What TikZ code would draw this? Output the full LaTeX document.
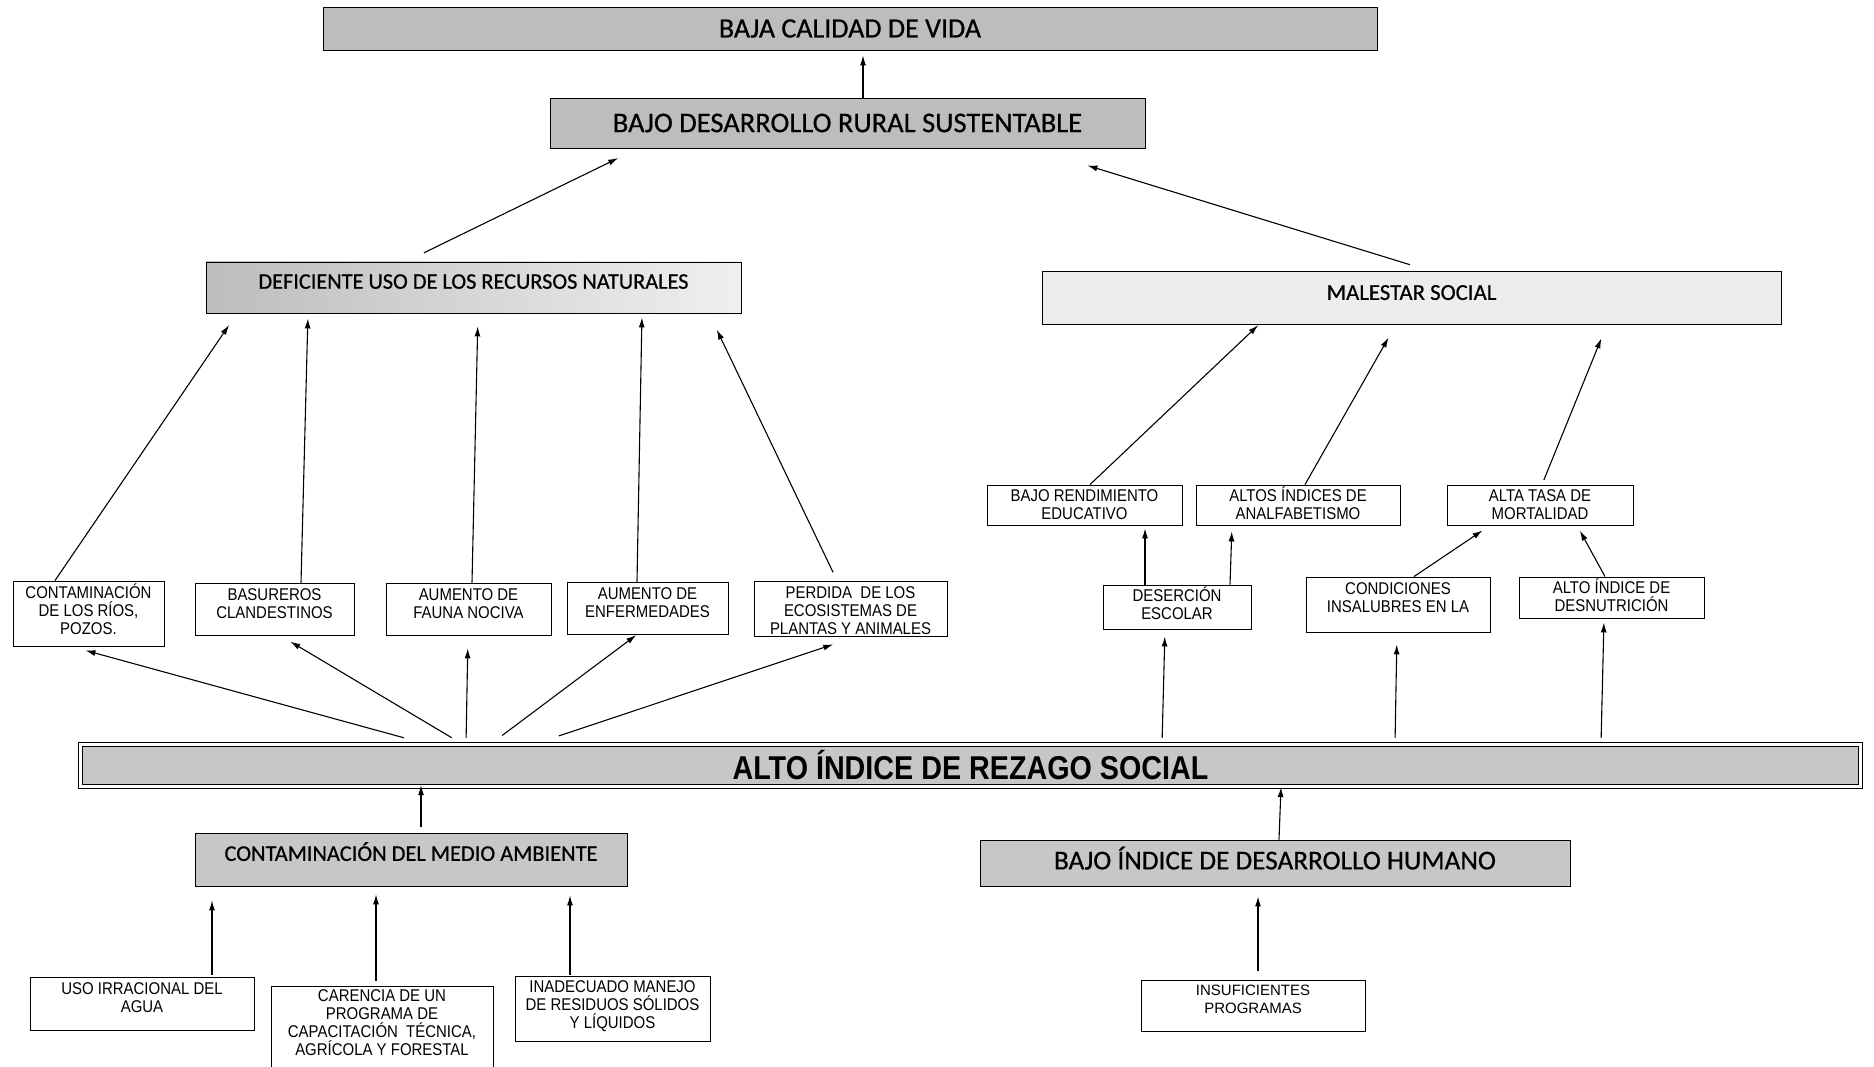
\documentclass[tikz,border=0pt]{standalone}
\usepackage{fontspec}
\setmainfont{Liberation Sans}
\newfontfamily\hdr[FakeBold=0.6]{Carlito}
\newfontfamily\narrow[FakeStretch=0.88]{Liberation Sans}
\newfontfamily\rezago[FakeStretch=0.87]{Liberation Sans Bold}
\usetikzlibrary{arrows.meta}
\definecolor{gA}{gray}{0.74}
\definecolor{gB}{gray}{0.78}
\definecolor{gL}{gray}{0.93}
\newcommand{\tb}[4]{\parbox[c][#2pt][t]{#1pt}{\centering\rule{0pt}{#3pt}#4\par}}
\newcommand{\conn}[6]{\draw[arr,shorten <=#5pt,shorten >=#6pt] (#1.north -| #2,0) -- (#3.south -| #4,0);}
\tikzset{
  hbox/.style={draw, line width=0.9pt, inner sep=0pt},
  sbox/.style={draw, line width=0.9pt, inner sep=0pt, font=\narrow\fontsize{17}{18}\selectfont},
  arr/.style={-{Latex[length=10pt,width=6pt]}, line width=1.1pt}
}
\begin{document}
\begin{tikzpicture}[x=1pt,y=-1pt]
\useasboundingbox[fill=white] (0,0) rectangle (1874,1067);
% headers
\node[hbox, fill=gA, minimum width=1054pt, minimum height=43pt, font=\hdr\fontsize{28}{30}\selectfont] (n1) at (850,28.5) {BAJA CALIDAD DE VIDA};
\node[hbox, fill=gA, minimum width=595pt, minimum height=50pt, font=\hdr\fontsize{28.5}{30}\selectfont] (n2) at (847.5,123) {BAJO DESARROLLO RURAL SUSTENTABLE};
\node[hbox, left color=gA, right color=gray!12, minimum width=535pt, minimum height=51pt, text depth=12pt, font=\hdr\fontsize{22.3}{24}\selectfont] (n3) at (473.5,287.5) {DEFICIENTE USO DE LOS RECURSOS NATURALES};
\node[hbox, fill=gL, minimum width=739pt, minimum height=53pt, text depth=10pt, font=\hdr\fontsize{22.8}{24}\selectfont] (n4) at (1411.5,297.5) {MALESTAR SOCIAL};
% left small boxes
\node[sbox] (n5) at (88.5,613.5) {\tb{151}{65}{17}{CONTAMINACIÓN\\DE LOS RÍOS,\\POZOS.}};
\node[sbox] (n6) at (274.5,609) {\tb{159}{52}{17}{BASUREROS\\CLANDESTINOS}};
\node[sbox] (n7) at (468.5,609) {\tb{165}{52}{17}{AUMENTO DE\\FAUNA NOCIVA}};
\node[sbox] (n8) at (647.5,608) {\tb{161}{52}{17}{AUMENTO DE\\ENFERMEDADES}};
\node[sbox] (n9) at (850.5,608.5) {\tb{193}{55}{17}{PERDIDA~ DE LOS\\ECOSISTEMAS DE\\PLANTAS Y ANIMALES}};
% right small boxes
\node[sbox] (n10) at (1084.5,505) {\tb{195}{40}{16.5}{BAJO RENDIMIENTO\\EDUCATIVO}};
\node[sbox] (n11) at (1298,505) {\tb{204}{40}{16.5}{ALTOS ÍNDICES DE\\ANALFABETISMO}};
\node[sbox] (n12) at (1540,505) {\tb{186}{40}{16.5}{ALTA TASA DE\\MORTALIDAD}};
\node[sbox] (n13) at (1177,607) {\tb{148}{44}{16.5}{DESERCIÓN\\ESCOLAR}};
\node[sbox] (n14) at (1398,604.5) {\tb{184}{55}{17}{CONDICIONES\\INSALUBRES EN LA}};
\node[sbox] (n15) at (1611.5,597.5) {\tb{185}{41}{16.5}{ALTO ÍNDICE DE\\DESNUTRICIÓN}};
% main bar
\node[draw, line width=1.3pt, double, double distance=2.5pt, fill=gB, inner sep=0pt, minimum width=1780pt, minimum height=42pt, font=\rezago\fontsize{33}{35}\selectfont] (n16) at (970.5,765.5) {ALTO ÍNDICE DE REZAGO SOCIAL};
% lower headers
\node[hbox, fill=gB, minimum width=432pt, minimum height=53pt, text depth=16pt, font=\hdr\fontsize{22.4}{24}\selectfont] (n17) at (411,859.5) {CONTAMINACIÓN DEL MEDIO AMBIENTE};
\node[hbox, fill=gB, minimum width=590pt, minimum height=46pt, text depth=10pt, font=\hdr\fontsize{27.2}{29}\selectfont] (n18) at (1275,863) {BAJO ÍNDICE DE DESARROLLO HUMANO};
% bottom boxes
\node[sbox] (n19) at (142,1003.5) {\tb{224}{53}{17}{USO IRRACIONAL DEL\\AGUA}};
\node[sbox] (n20) at (382,1028.5) {\tb{222}{85}{15}{CARENCIA DE UN\\PROGRAMA DE\\CAPACITACIÓN~ TÉCNICA,\\AGRÍCOLA Y FORESTAL}};
\node[sbox] (n21) at (612.5,1008.5) {\tb{195}{65}{16}{INADECUADO MANEJO\\DE RESIDUOS SÓLIDOS\\Y LÍQUIDOS}};
\node[sbox, font=\fontsize{15}{18}\selectfont] (n22) at (1253,1005.5) {\tb{224}{51}{15}{INSUFICIENTES\\PROGRAMAS}};
% connectors
\conn{n2}{863}{n1}{863}{0}{5}
\conn{n3}{406}{n2}{638}{20}{22}
\conn{n4}{1429}{n2}{1032}{20}{58}
\conn{n5}{55}{n3}{237}{0}{14}
\conn{n6}{301}{n3}{308}{0}{5}
\conn{n7}{472}{n3}{478}{0}{13}
\conn{n8}{637}{n3}{642}{0}{4}
\conn{n9}{837}{n3}{709}{9}{18}
\conn{n16}{426}{n5}{71}{23}{15}
\conn{n16}{462}{n6}{280}{12}{12}
\conn{n16}{466}{n7}{468}{6}{13}
\conn{n16}{491}{n8}{637}{14}{1}
\conn{n16}{535}{n9}{857}{25}{25}
\conn{n10}{1090}{n4}{1259}{0}{1}
\conn{n11}{1305}{n4}{1396}{0}{15}
\conn{n12}{1542}{n4}{1607}{5}{15}
\conn{n13}{1145}{n10}{1145}{0}{3}
\conn{n13}{1230}{n11}{1232}{0}{6}
\conn{n14}{1414}{n12}{1490}{0}{9}
\conn{n15}{1605}{n12}{1577}{0}{6}
\conn{n16}{1162}{n13}{1165}{6}{7}
\conn{n16}{1395}{n14}{1397}{6}{12}
\conn{n16}{1601}{n15}{1604}{6}{4}
\conn{n17}{421}{n16}{421}{6}{-2}
\conn{n18}{1279}{n16}{1281}{0}{0}
\conn{n19}{212}{n17}{212}{2}{14}
\conn{n20}{376}{n17}{376}{5}{8}
\conn{n21}{570}{n17}{570}{1}{9}
\conn{n22}{1258}{n18}{1258}{9}{10}
\end{tikzpicture}
\end{document}
